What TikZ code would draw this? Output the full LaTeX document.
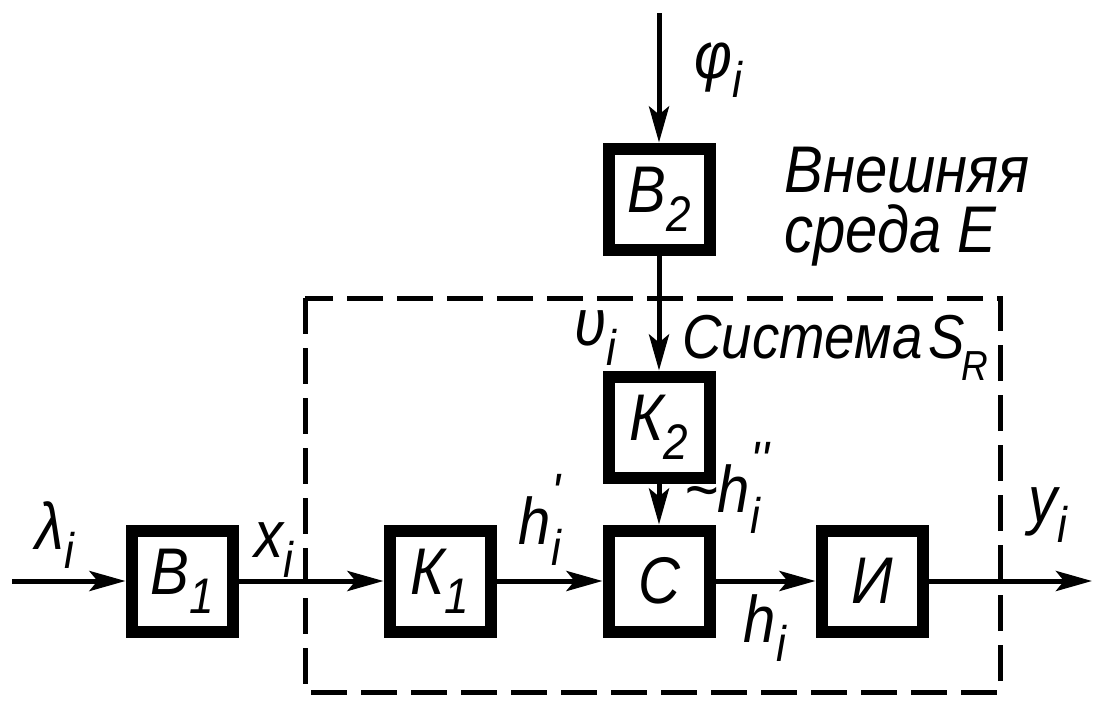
\documentclass[tikz,border=0pt]{standalone}
\usepackage{fontspec}
\setmainfont{Liberation Sans}[FakeStretch=0.88]
\usetikzlibrary{positioning, arrows.meta}

\newcommand{\lowidx}[1]{\raisebox{-0.55ex}{\fontsize{25}{25}\selectfont #1}}
\newcommand{\primeidx}[2]{\rlap{\raisebox{0.95ex}{\fontsize{27}{27}\selectfont #1}}\raisebox{-0.6ex}{\fontsize{25}{25}\selectfont #2}}

\begin{document}
\begin{tikzpicture}[
  x=0.5pt, y=-0.5pt,
  font=\fontsize{33}{30}\selectfont\itshape,
  blk/.style   = {draw, line width=6pt, minimum size=50.5pt, inner sep=0pt},
  flow/.style  = {-{Stealth[length=18pt, width=10pt, inset=4pt]}, line width=2.5pt},
  lbl/.style   = {inner sep=0pt},
  border/.style = {line width=2.5pt, dash pattern=on 18pt off 7pt},
]
\useasboundingbox (0,0) rectangle (1101,707);

%% ---------------------------------------------------------------- blocks
\node[blk] (b1) at (182,581) {В\lowidx{1}};
\node[blk, right=72.5pt of b1] (k1) {К\lowidx{1}};
\node[blk, right=53pt of k1]   (c)  {С};
\node[blk, right=50pt of c]    (u)  {И};
\node[blk, above=20.5pt of c]  (k2) {К\lowidx{2}};
\node[blk, above=57.5pt of k2] (b2) {В\lowidx{2}};

\coordinate (lin)   at (12,581);
\coordinate (yout)  at (1092,581);
\coordinate (phiin) at (659,13);

%% ---------------------------------------------------------------- flows
\draw[flow] (lin)   -- (b1);
\draw[flow] (b1)    -- (k1);
\draw[flow] (k1)    -- (c);
\draw[flow] (c)     -- (u);
\draw[flow] (u)     -- (yout);
\draw[flow] (phiin) -- (b2);
\draw[flow] (b2)    -- (k2);
\draw[flow] (k2)    -- (c);

%% ---------------------------------------------------------------- system
\draw[border] (305,298) rectangle (1000,692);

%% ---------------------------------------------------------------- labels
\node[lbl] (phil)  at (718,70)  {φ\lowidx{i}};
\node[lbl] (laml)  at (55,535)  {λ\lowidx{i}};
\node[lbl] (xl)    at (274,550) {x\lowidx{i}};
\node[lbl] (upsl)  at (595,338) {υ\lowidx{i}};
\node[lbl] (hpl)   at (540,520) {h\primeidx{\textquotesingle}{i}};
\node[lbl] (hppl)  at (722,488) {\textasciitilde h\primeidx{\textquotesingle\textquotesingle}{i}};
\node[lbl] (hl)    at (765,628) {h\lowidx{i}};
\node[lbl] (yl)    at (1048,515) {y\lowidx{i}};
\node[lbl, anchor=base west, font=\fontsize{31}{30}\selectfont\itshape] (sysl) at (682,358)
  {Система\kern3pt S\kern-1.5pt\raisebox{-11pt}{\fontsize{21}{21}\selectfont R}};
\node[lbl, anchor=west, align=left] (envl) at (784,207) {Внешняя\\среда Е};
\end{tikzpicture}
\end{document}
